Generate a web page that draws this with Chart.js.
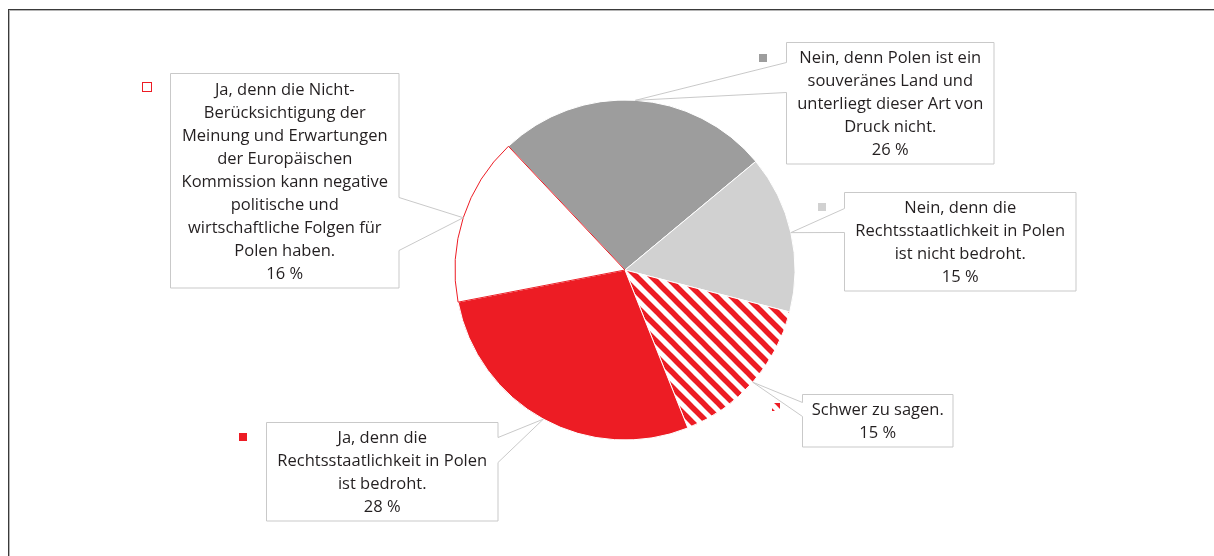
<!DOCTYPE html>
<html>
<head>
<meta charset="utf-8">
<script src="https://cdn.jsdelivr.net/npm/chart.js@4.4.1/dist/chart.umd.min.js"></script>
<style>
  html, body { margin: 0; padding: 0; background: #fff; }
  #wrap { width: 1214px; height: 556px; position: relative; }
</style>
</head>
<body>
<div id="wrap"><canvas id="pieChart" width="1214" height="556"></canvas></div>
<script>
// Daten (Reihenfolge im Uhrzeigersinn, ab der grauen Scheibe)
const categories = [
    ['Nein, denn Polen ist ein', 'souveränes Land und', 'unterliegt dieser Art von', 'Druck nicht.'],
    ['Nein, denn die', 'Rechtsstaatlichkeit in Polen', 'ist nicht bedroht.'],
    ['Schwer zu sagen.'],
    ['Ja, denn die', 'Rechtsstaatlichkeit in Polen', 'ist bedroht.'],
    ['Ja, denn die Nicht-', 'Berücksichtigung der', 'Meinung und Erwartungen', 'der Europäischen', 'Kommission kann negative', 'politische und', 'wirtschaftliche Folgen für', 'Polen haben.']
];
const values = [26, 15, 15, 28, 16];

const RED = '#ed1c24';
const TEXT = '#231f20';
const LINE = '#c9c9c9';

// rot/weiß gestreiftes Muster für "Schwer zu sagen"
function makeStripes() {
    const s = 15;
    const c = document.createElement('canvas');
    c.width = s; c.height = s;
    const g = c.getContext('2d');
    g.fillStyle = '#fff';
    g.fillRect(0, 0, s, s);
    g.strokeStyle = RED;
    g.lineWidth = 5.5;
    [-s, 0, s].forEach(x0 => {
        g.beginPath();
        g.moveTo(x0 - 2, -2);
        g.lineTo(x0 + s + 2, s + 2);
        g.stroke();
    });
    return g.createPattern(c, 'repeat');
}
const stripes = makeStripes();

// Legenden-Kästchen und Callout-Boxen (Position der Boxen, Seite des Zeigers)
const callouts = [
    { box: [786, 42, 207, 121], side: 'left',  a: [62, 92],   key: [759, 54, 8, 8] },
    { box: [844, 192, 231, 98], side: 'left',  a: [208, 232], key: [818, 203, 8, 8] },
    { box: [802, 394, 150, 52], side: 'left',  a: [402, 416], key: [772, 403, 8, 8] },
    { box: [266, 422, 231, 98], side: 'right', a: [437, 462], key: [239, 433, 8, 8] },
    { box: [170, 73, 228, 214], side: 'right', a: [197, 250], key: [142, 82, 10, 10] }
];

const calloutPlugin = {
    id: 'callouts',
    beforeDraw(chart) {
        const ctx = chart.ctx;
        ctx.save();
        // Rahmen oben und links
        ctx.fillStyle = '#3a3a3a';
        ctx.fillRect(8, 9, 1206, 1);
        ctx.fillRect(8, 9, 1, 547);
        ctx.fillStyle = '#b5b5b5';
        ctx.fillRect(9, 10, 1205, 1);
        ctx.fillRect(9, 10, 1, 546);
        ctx.restore();
    },
    afterDatasetsDraw(chart) {
        const ctx = chart.ctx;
        const meta = chart.getDatasetMeta(0);
        const ds = chart.data.datasets[0];
        ctx.save();
        meta.data.forEach((el, i) => {
            const p = el.getProps(['x', 'y', 'startAngle', 'endAngle', 'outerRadius'], true);
            const mid = (p.startAngle + p.endAngle) / 2;
            const ax = p.x + Math.cos(mid) * p.outerRadius;
            const ay = p.y + Math.sin(mid) * p.outerRadius;
            const c = callouts[i];
            const [bx, by, bw, bh] = c.box.map(v => v + 0.5);
            const [a1, a2] = c.a.map(v => v + 0.5);

            ctx.beginPath();
            if (c.side === 'left') {
                ctx.moveTo(bx, by);
                ctx.lineTo(bx + bw, by);
                ctx.lineTo(bx + bw, by + bh);
                ctx.lineTo(bx, by + bh);
                ctx.lineTo(bx, a2);
                ctx.lineTo(ax, ay);
                ctx.lineTo(bx, a1);
            } else {
                ctx.moveTo(bx, by);
                ctx.lineTo(bx + bw, by);
                ctx.lineTo(bx + bw, a1);
                ctx.lineTo(ax, ay);
                ctx.lineTo(bx + bw, a2);
                ctx.lineTo(bx + bw, by + bh);
                ctx.lineTo(bx, by + bh);
            }
            ctx.closePath();
            ctx.fillStyle = '#fff';
            ctx.fill();
            ctx.strokeStyle = LINE;
            ctx.lineWidth = 1;
            ctx.stroke();

            // Text
            const lines = chart.data.labels[i].concat([values[i] + ' %']);
            const lh = 23;
            const cx = bx + bw / 2;
            const cy = by + bh / 2 + 1.5;
            ctx.fillStyle = TEXT;
            ctx.font = '16.5px "Open Sans", sans-serif';
            ctx.textAlign = 'center';
            ctx.textBaseline = 'middle';
            lines.forEach((t, k) => {
                ctx.fillText(t, cx, cy + (k - (lines.length - 1) / 2) * lh);
            });

            // Legenden-Kästchen
            const [kx, ky, kw, kh] = c.key;
            if (i === 4) {
                ctx.strokeStyle = RED;
                ctx.strokeRect(kx + 0.5, ky + 0.5, kw - 1, kh - 1);
            } else {
                ctx.fillStyle = ds.backgroundColor[i];
                ctx.fillRect(kx, ky, kw, kh);
            }
        });
        ctx.restore();
    }
};

const ctxPie = document.getElementById('pieChart').getContext('2d');
const pieChart = new Chart(ctxPie, {
    type: 'pie',
    data: {
        labels: categories,
        datasets: [{
            data: values,
            backgroundColor: ['#9d9d9d', '#d1d1d1', stripes, RED, '#ffffff'],
            borderColor: ['#ffffff', '#ffffff', '#ffffff', '#ffffff', RED],
            borderWidth: 1
        }]
    },
    options: {
        responsive: false,
        animation: false,
        rotation: -43.3,
        radius: 170,
        layout: { padding: { left: 455, right: 419, top: 100, bottom: 116 } },
        plugins: { legend: { display: false }, tooltip: { enabled: false } },
        events: []
    },
    plugins: [calloutPlugin]
});
</script>
</body>
</html>
